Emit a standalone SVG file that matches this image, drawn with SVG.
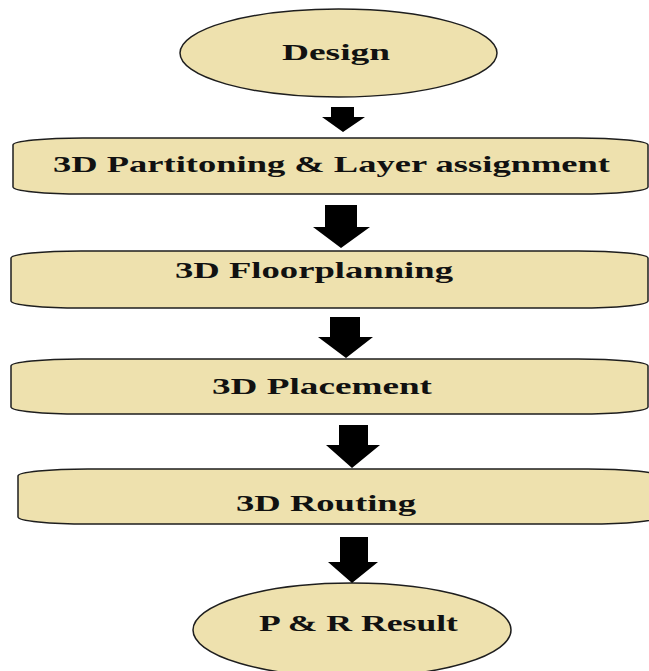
<svg xmlns="http://www.w3.org/2000/svg" width="649" height="671" viewBox="0 0 649 671">
<style>
.node{fill:#EEE1AE;stroke:#1e1e1e;stroke-width:1.5}
.lbl{font-family:"Liberation Serif","DejaVu Serif",serif;font-weight:bold;font-size:23px;fill:#111}
.arr{fill:#000}
</style>
<rect width="649" height="671" fill="#fff"/>
<g id="design">
<ellipse class="node" cx="338.5" cy="53" rx="158.5" ry="44"/>
<text class="lbl" x="282" y="60" textLength="108" lengthAdjust="spacingAndGlyphs">Design</text>
</g>
<g id="partitioning">
<rect class="node" x="13" y="138" width="635" height="56" rx="70" ry="7"/>
<text class="lbl" x="53" y="172" textLength="557" lengthAdjust="spacingAndGlyphs">3D Partitoning &amp; Layer assignment</text>
</g>
<g id="floorplanning">
<rect class="node" x="11" y="251" width="637" height="57" rx="70" ry="7"/>
<text class="lbl" x="175" y="278" textLength="278" lengthAdjust="spacingAndGlyphs">3D Floorplanning</text>
</g>
<g id="placement">
<rect class="node" x="11" y="359" width="637" height="55" rx="70" ry="7"/>
<text class="lbl" x="212" y="394" textLength="220" lengthAdjust="spacingAndGlyphs">3D Placement</text>
</g>
<g id="routing">
<rect class="node" x="18" y="469" width="640" height="55" rx="70" ry="7"/>
<text class="lbl" x="236" y="511" textLength="180" lengthAdjust="spacingAndGlyphs">3D Routing</text>
</g>
<g id="result">
<ellipse class="node" cx="352" cy="630" rx="159" ry="47"/>
<text class="lbl" x="259" y="631" textLength="199" lengthAdjust="spacingAndGlyphs">P &amp; R Result</text>
</g>
<g id="connectors">
<polygon class="arr" points="331,107 354,107 354,117 365,117 343,132 322,117 331,117"/>
<polygon class="arr" points="325,205 357,205 357,227 370,227 341,248 313,227 325,227"/>
<polygon class="arr" points="330,317 360,317 360,337 373,337 346,358 318,337 330,337"/>
<polygon class="arr" points="339,425 368,425 368,445 380,445 352,468 326,445 339,445"/>
<polygon class="arr" points="340,537 368,537 368,562 378,562 352,583 328,562 340,562"/>
</g>
</svg>
